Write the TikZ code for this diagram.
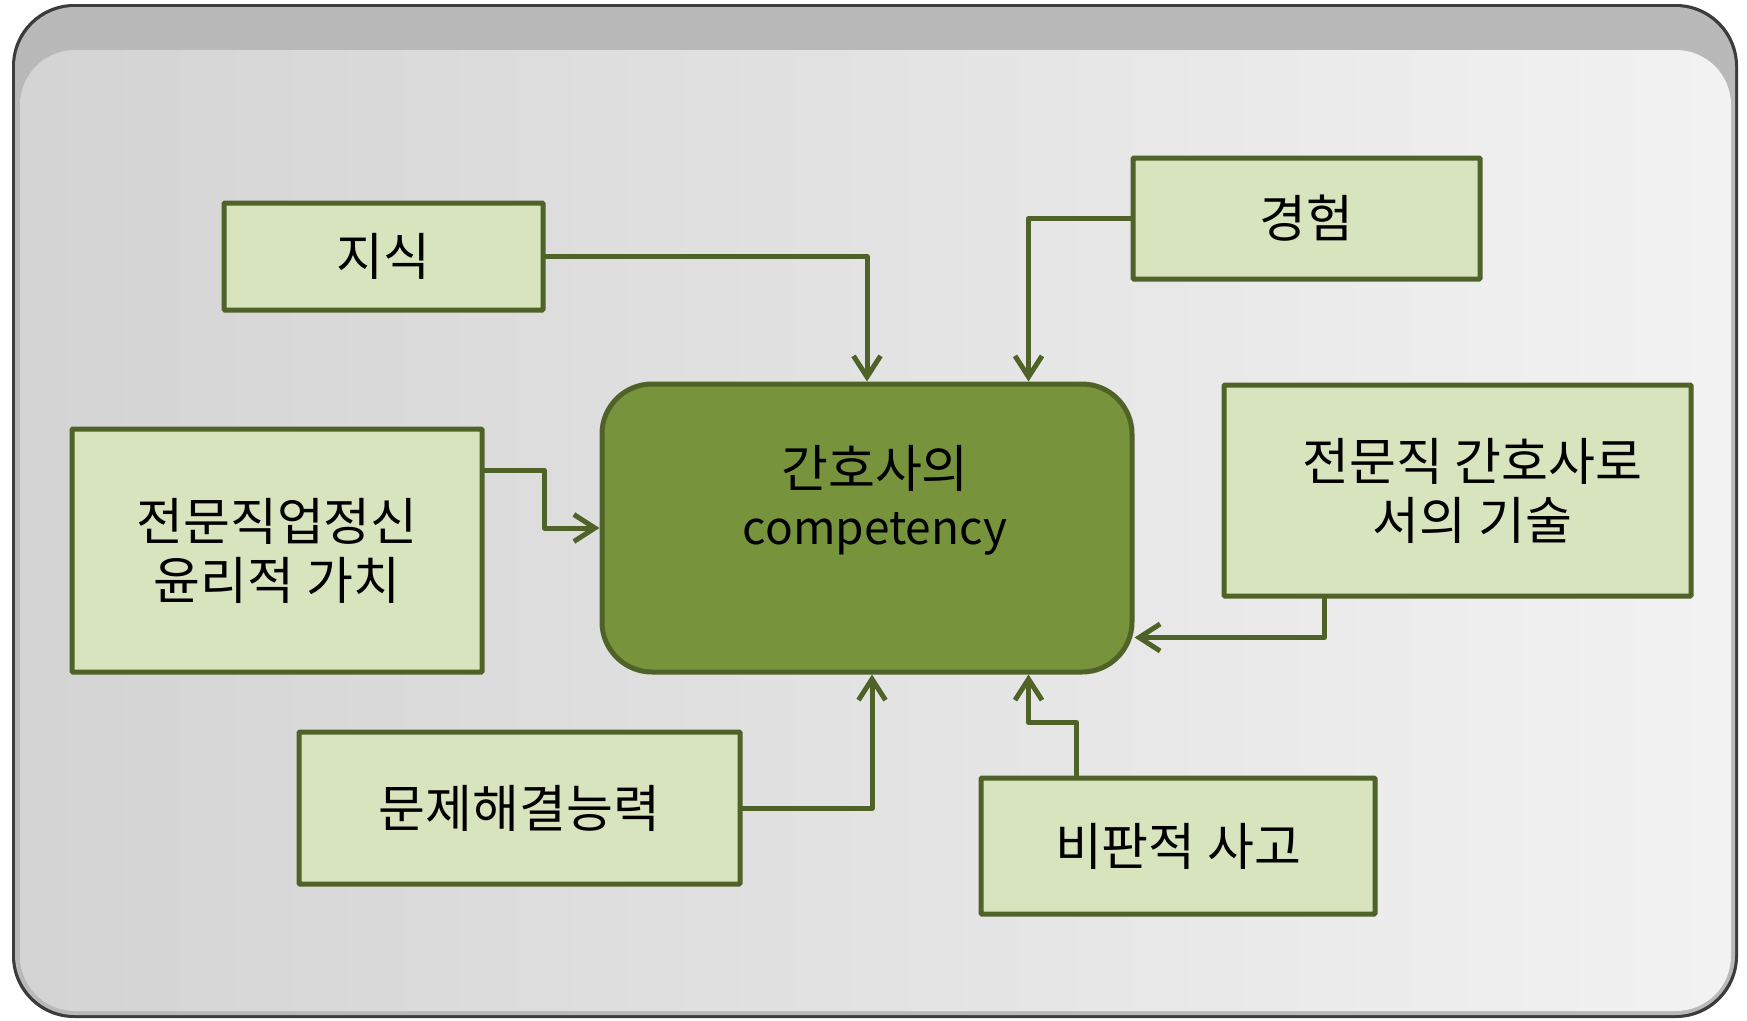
\documentclass[tikz,border=0pt]{standalone}
\usepackage{fontspec}
\setmainfont{Noto Sans CJK KR}
\usetikzlibrary{arrows.meta}
\definecolor{boxfill}{HTML}{D7E4BD}
\definecolor{boxline}{HTML}{4F6228}
\definecolor{hubfill}{HTML}{77933C}
\definecolor{framedark}{HTML}{3C3C3C}
\definecolor{frameband}{HTML}{B9B9B9}
\begin{document}
\begin{tikzpicture}[x=1pt, y=-1pt, line width=5pt,
  item/.style={draw=boxline, fill=boxfill, inner sep=0pt, rounded corners=1pt,
    font=\fontsize{51}{59}\selectfont, align=center},
  hub/.style={draw=boxline, fill=hubfill, rounded corners=50pt,
    minimum width=530pt, minimum height=288pt},
  feed/.style={draw=boxline, line cap=round, line join=round,
    -{Straight Barb[length=21pt,width=27pt]}}]
  \useasboundingbox (0,0) rectangle (1747,1020);
  % frame
  \fill[framedark, rounded corners=62pt] (12,4) rectangle (1738,1018);
  \fill[frameband, rounded corners=60pt] (15,7) rectangle (1735,1015);
  \shade[left color=black!17, right color=black!5, rounded corners=55pt]
    (20,50) rectangle (1731,1011);
  % boxes
  \node[hub] (core) at (867,528) {};
  \node[font=\fontsize{51}{57}\selectfont, align=center] (coretext) at (875,500)
    {간호사의\\{\fontsize{46}{57}\selectfont competency}};
  \node[item, minimum width=319pt, minimum height=107pt] (jisik) at (383.5,256.5) {지식};
  \node[item, minimum width=347pt, minimum height=121pt] (exper) at (1306.5,218.5) {경험};
  \node[item, minimum width=410pt, minimum height=243pt] (ethic) at (277,550.5)
    {전문직업정신\\윤리적 가치};
  \node[item, minimum width=467pt, minimum height=211pt] (skill) at (1457.5,490.5)
    {\hspace*{30pt}전문직 간호사로\\\hspace*{30pt}서의 기술};
  \node[item, minimum width=441pt, minimum height=152pt] (solve) at (519.5,808) {문제해결능력};
  \node[item, minimum width=394pt, minimum height=136pt] (crit) at (1178,846) {비판적 사고};
  % connectors
  \draw[feed] (jisik.east) -| (core.north);
  \draw[feed] (exper.west) -| ([xshift=-106pt]core.north east);
  \draw[feed] ([yshift=-44pt]ethic.north east) -- ++(60,0) |- (core.west);
  \draw[feed] ([xshift=103pt]skill.south west) |- ([yshift=37pt]core.south east);
  \draw[feed] (solve.east) -| ([xshift=5pt]core.south);
  \draw[feed] ([xshift=98pt]crit.north west) -- ++(0,-53) -| ([xshift=-106pt]core.south east);
\end{tikzpicture}
\end{document}
